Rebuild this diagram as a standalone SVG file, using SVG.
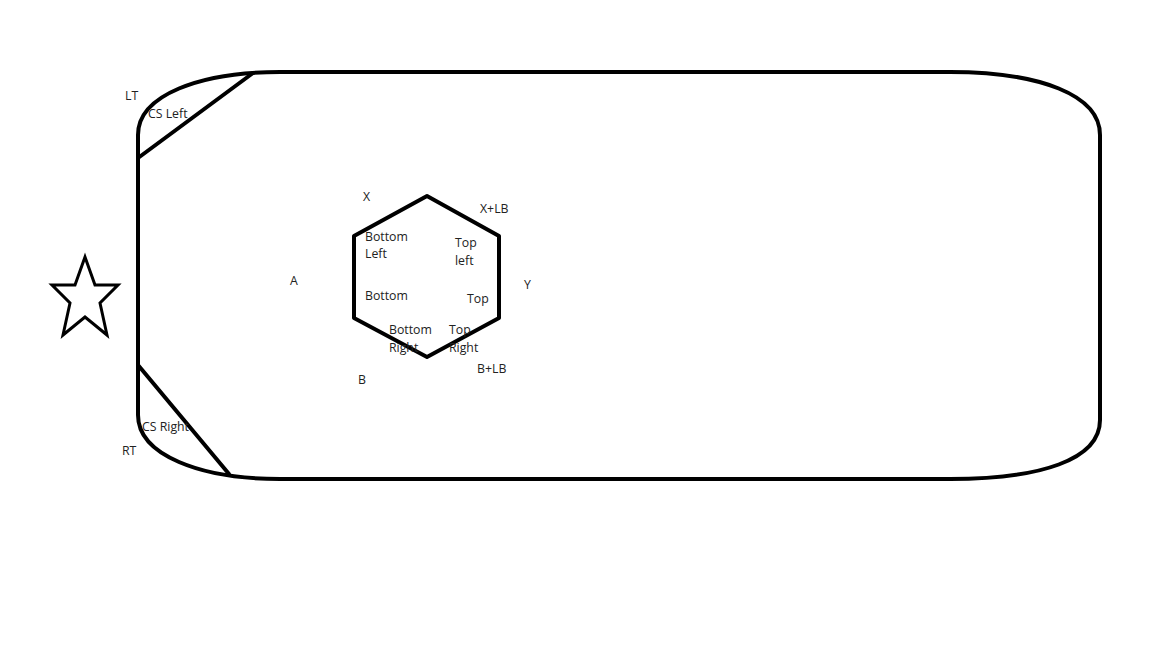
<svg xmlns="http://www.w3.org/2000/svg" width="1152" height="648" viewBox="0 0 1152 648">
<style>
.s{fill:none;stroke:#000;stroke-width:4;stroke-linejoin:round;stroke-linecap:round}
.t{font-family:"Open Sans","Liberation Sans",sans-serif;font-size:12.3px;fill:#222}
</style>
<rect width="1152" height="648" fill="#fff"/>
<g id="board">
<path class="s" d="M280,72 L950,72 C1040,72 1100,95 1100,135 L1100,420 C1100,460 1040,479 950,479 L280,479 C200,479 138,455 138,415 L138,135 C138,95 200,72 280,72 Z"/>
<path class="s" d="M253,73 L138,158"/>
<path class="s" d="M138,365 L229,474"/>
</g>
<g id="hexagon">
<polygon class="s" points="427,196 499,236 499,318 427,357 354,318 354,236"/>
</g>
<g id="star">
<polygon fill="none" stroke="#000" stroke-width="3" stroke-linejoin="miter" points="85,257 95,285 118,285 100,303 107,335 85,317 63,335 70,303 52,285 75,285"/>
</g>
<g id="labels">
<text class="t" x="125" y="100">LT</text>
<text class="t" x="148" y="118">CS Left</text>
<text class="t" x="363" y="201">X</text>
<text class="t" x="480" y="213">X+LB</text>
<text class="t" x="365" y="241">Bottom</text>
<text class="t" x="365" y="258">Left</text>
<text class="t" x="455" y="247">Top</text>
<text class="t" x="455" y="265">left</text>
<text class="t" x="290" y="285">A</text>
<text class="t" x="524" y="289">Y</text>
<text class="t" x="365" y="300">Bottom</text>
<text class="t" x="467" y="303">Top</text>
<text class="t" x="389" y="334">Bottom</text>
<text class="t" x="389" y="352">Right</text>
<text class="t" x="449" y="334">Top</text>
<text class="t" x="449" y="352">Right</text>
<text class="t" x="477" y="373">B+LB</text>
<text class="t" x="358" y="384">B</text>
<text class="t" x="142" y="431">CS Right</text>
<text class="t" x="122" y="455">RT</text>
</g>
</svg>
